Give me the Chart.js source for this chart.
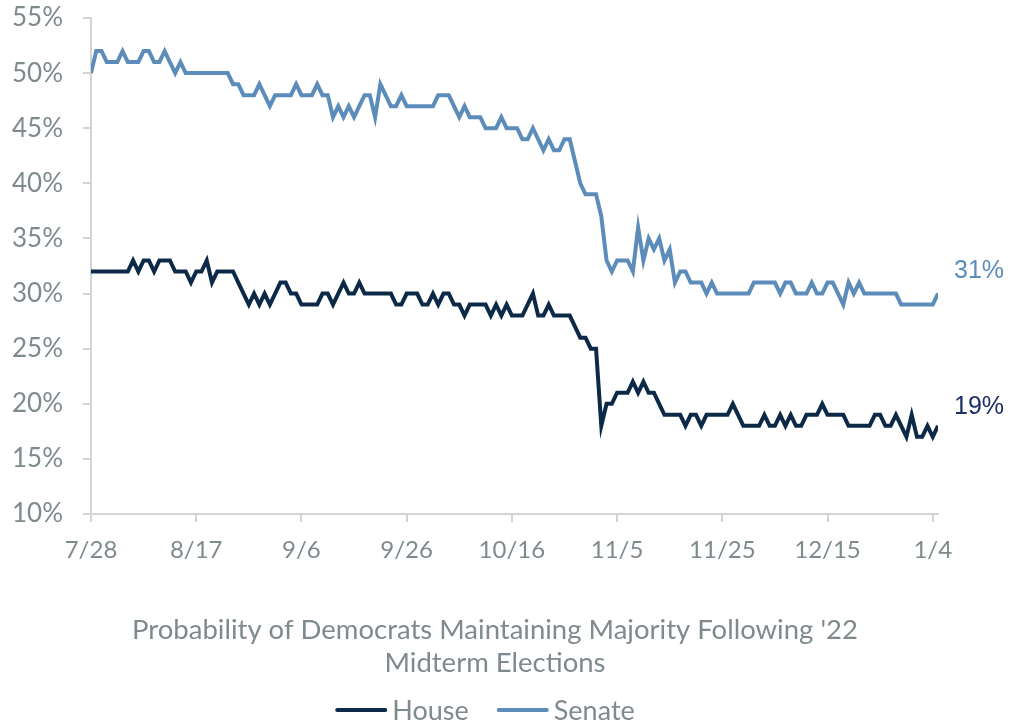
<!DOCTYPE html>
<html>
<head>
<meta charset="utf-8">
<script src="https://cdn.jsdelivr.net/npm/chart.js@4.4.0/dist/chart.umd.min.js"></script>
<style>
  html, body { margin: 0; padding: 0; background: #fff; }
  #wrap { width: 1013px; height: 724px; }
</style>
</head>
<body>
<div id="wrap"><canvas id="chart"></canvas></div>
<script>
// ---- data (daily, 7/28 -> 1/5) ----
const startDate = new Date(2022, 6, 28);
const tickLabels = ['7/28', '8/17', '9/6', '9/26', '10/16', '11/5', '11/25', '12/15', '1/4'];

const house = [
  32, 32, 32, 32, 32, 32, 32, 32, 33, 32, 33, 33, 32, 33, 33, 33, 32, 32, 32, 31,
  32, 32, 33, 31, 32, 32, 32, 32, 31, 30, 29, 30, 29, 30, 29, 30, 31, 31, 30, 30,
  29, 29, 29, 29, 30, 30, 29, 30, 31, 30, 30, 31, 30, 30, 30, 30, 30, 30, 29, 29,
  30, 30, 30, 29, 29, 30, 29, 30, 30, 29, 29, 28, 29, 29, 29, 29, 28, 29, 28, 29,
  28, 28, 28, 29, 30, 28, 28, 29, 28, 28, 28, 28, 27, 26, 26, 25, 25, 18, 20, 20,
  21, 21, 21, 22, 21, 22, 21, 21, 20, 19, 19, 19, 19, 18, 19, 19, 18, 19, 19, 19,
  19, 19, 20, 19, 18, 18, 18, 18, 19, 18, 18, 19, 18, 19, 18, 18, 19, 19, 19, 20,
  19, 19, 19, 19, 18, 18, 18, 18, 18, 19, 19, 18, 18, 19, 18, 17, 19, 17, 17, 18,
  17, 18
];

const senate = [
  50, 52, 52, 51, 51, 51, 52, 51, 51, 51, 52, 52, 51, 51, 52, 51, 50, 51, 50, 50,
  50, 50, 50, 50, 50, 50, 50, 49, 49, 48, 48, 48, 49, 48, 47, 48, 48, 48, 48, 49,
  48, 48, 48, 49, 48, 48, 46, 47, 46, 47, 46, 47, 48, 48, 46, 49, 48, 47, 47, 48,
  47, 47, 47, 47, 47, 47, 48, 48, 48, 47, 46, 47, 46, 46, 46, 45, 45, 45, 46, 45,
  45, 45, 44, 44, 45, 44, 43, 44, 43, 43, 44, 44, 42, 40, 39, 39, 39, 37, 33, 32,
  33, 33, 33, 32, 36, 33, 35, 34, 35, 33, 34, 31, 32, 32, 31, 31, 31, 30, 31, 30,
  30, 30, 30, 30, 30, 30, 31, 31, 31, 31, 31, 30, 31, 31, 30, 30, 30, 31, 30, 30,
  31, 31, 30, 29, 31, 30, 31, 30, 30, 30, 30, 30, 30, 30, 29, 29, 29, 29, 29, 29,
  29, 30
];

const endLabels = ['19%', '31%'];
const titleLines = ["Probability of Democrats Maintaining Majority Following '22", 'Midterm Elections'];

// date labels for each day
const dates = house.map((_, i) => {
  const d = new Date(startDate);
  d.setDate(d.getDate() + i);
  return (d.getMonth() + 1) + '/' + d.getDate();
});

const HOUSE_COLOR = '#0c2a48';
const SENATE_COLOR = '#5b8cba';
const GRAY = '#7f8a8e';
const FONT = 'Lato, "Open Sans", sans-serif';

// ---- end-of-line labels ----
const endLabelPlugin = {
  id: 'endLabels',
  afterDatasetsDraw(chart) {
    const { ctx, chartArea, scales } = chart;
    const colors = ['#1b2f66', SENATE_COLOR];
    const offsets = [-19, -22];
    ctx.save();
    ctx.font = '25px "Liberation Sans", Arial, sans-serif';
    ctx.textBaseline = 'middle';
    ctx.textAlign = 'left';
    chart.data.datasets.forEach((ds, i) => {
      const last = ds.data[ds.data.length - 1];
      const y = scales.y.getPixelForValue(last.y) + offsets[i];
      ctx.fillStyle = colors[i];
      ctx.fillText(endLabels[i], chartArea.right + 16, y);
    });
    ctx.restore();
  }
};

// ---- title + legend under the chart ----
const bottomTextPlugin = {
  id: 'bottomText',
  afterDraw(chart) {
    const { ctx } = chart;
    ctx.save();
    ctx.fillStyle = GRAY;
    ctx.textBaseline = 'middle';
    ctx.textAlign = 'center';
    ctx.font = '27.5px ' + FONT;
    ctx.fillText(titleLines[0], 495, 630);
    ctx.fillText(titleLines[1], 495, 663);

    // legend
    ctx.font = '27px ' + FONT;
    ctx.textAlign = 'left';
    const lineW = 50, gap = 7, itemGap = 28, y = 710;
    const items = chart.data.datasets.map(ds => ({
      text: ds.label, color: ds.borderColor, w: lineW + gap + ctx.measureText(ds.label).width
    }));
    const total = items.reduce((s, it) => s + it.w, 0) + itemGap * (items.length - 1);
    let x = 485 - total / 2;
    items.forEach(it => {
      ctx.strokeStyle = it.color;
      ctx.lineWidth = 4;
      ctx.lineCap = 'round';
      ctx.beginPath();
      ctx.moveTo(x + 2, y);
      ctx.lineTo(x + lineW, y);
      ctx.stroke();
      ctx.fillStyle = GRAY;
      ctx.fillText(it.text, x + lineW + gap, y + 1);
      x += it.w + itemGap;
    });
    ctx.restore();
  }
};

new Chart(document.getElementById('chart'), {
  type: 'line',
  data: {
    datasets: [
      {
        label: 'House',
        data: house.map((v, i) => ({ x: i, y: v })),
        borderColor: HOUSE_COLOR,
        backgroundColor: HOUSE_COLOR,
        borderWidth: 4,
        pointRadius: 0,
        tension: 0
      },
      {
        label: 'Senate',
        data: senate.map((v, i) => ({ x: i, y: v })),
        borderColor: SENATE_COLOR,
        backgroundColor: SENATE_COLOR,
        borderWidth: 4,
        pointRadius: 0,
        tension: 0
      }
    ]
  },
  options: {
    responsive: true,
    maintainAspectRatio: false,
    animation: false,
    layout: { padding: { top: 18, right: 75, left: 0, bottom: 150 } },
    scales: {
      x: {
        type: 'linear',
        min: 0,
        max: house.length - 1,
        border: { color: '#d4d4d4', width: 2 },
        grid: { drawOnChartArea: false, drawTicks: true, tickLength: 8, color: '#d4d4d4', lineWidth: 2 },
        afterBuildTicks: (scale) => {
          scale.ticks = tickLabels.map((_, i) => ({ value: i * 20 }));
        },
        ticks: {
          autoSkip: false,
          maxRotation: 0,
          padding: 14,
          color: GRAY,
          font: { family: FONT, size: 24 },
          callback: (v) => tickLabels[v / 20] ?? ''
        },
        afterFit: (scale) => { scale.height = 60; scale.paddingLeft = 0; scale.paddingRight = 0; }
      },
      y: {
        min: 10,
        max: 55,
        border: { color: '#d4d4d4', width: 2 },
        grid: { drawOnChartArea: false, drawTicks: true, tickLength: 8, color: '#d4d4d4', lineWidth: 2 },
        ticks: {
          stepSize: 5,
          padding: 20,
          color: GRAY,
          font: { family: FONT, size: 26 },
          callback: (v) => v + '%'
        },
        afterFit: (scale) => { scale.width = 91; scale.paddingTop = 0; scale.paddingBottom = 0; }
      }
    },
    plugins: {
      title: { display: false },
      legend: { display: false },
      tooltip: { enabled: false }
    }
  },
  plugins: [endLabelPlugin, bottomTextPlugin]
});
</script>
</body>
</html>
